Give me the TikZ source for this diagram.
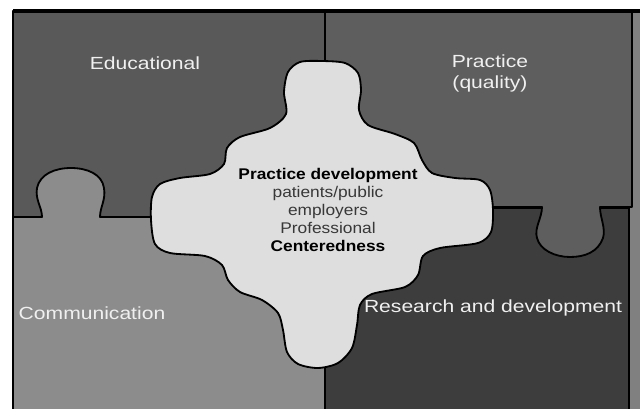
\documentclass[tikz,border=0pt]{standalone}
\usepackage{fontspec}
\setmainfont{Liberation Sans}
\newfontfamily\labelfont[FakeStretch=1.2]{Liberation Sans}
\newfontfamily\corefont[FakeStretch=1.12]{Liberation Sans}
\usepackage{xcolor}
\colorlet{colorEducational}{black!65}
\colorlet{colorPractice}{black!63}
\colorlet{colorCommunication}{black!45}
\colorlet{colorResearch}{black!76}
\colorlet{colorCore}{black!13}
\colorlet{colorStrip}{black!50}
\colorlet{colorLabel}{white!94!black}
\colorlet{colorCoreText}{black!78}
\tikzset{piece/.style={draw=black, line width=1.3pt, line join=round},
  pieceLabel/.style={text=colorLabel, font=\labelfont\fontsize{12.5}{15}\selectfont, align=center, inner sep=0pt},
  coreLabel/.style={text=colorCoreText, font=\corefont\fontsize{11}{12.8}\selectfont, align=center, inner sep=0pt}}

\begin{document}
\begin{tikzpicture}[x=0.025cm, y=-0.025cm]
\useasboundingbox (0,0) rectangle (640,409);
\clip (0,0) rectangle (640,409);
\fill[colorStrip] (628,11) rectangle (640,412);
\filldraw[piece, fill=colorResearch] (325,208) rectangle (629,414);
\filldraw[piece, fill=colorPractice] (325,11) -- (632,11) -- (632,207) -- (600,207) .. controls (600,218) and (606,228) .. (603,238) .. controls (598,252) and (585,257) .. (570,257) .. controls (555,257) and (540,250) .. (537,238) .. controls (534,228) and (542,218) .. (542,207) -- (325,207) -- cycle;
\filldraw[piece, fill=colorEducational] (13,11) rectangle (325,217);
\filldraw[piece, fill=colorCommunication] (13,217) -- (42,217) .. controls (42,207) and (35,200) .. (37,188) .. controls (40,174) and (55,168) .. (71,168) .. controls (87,168) and (102,174) .. (104,188) .. controls (106,200) and (100,207) .. (100,217) -- (325,217) -- (325,414) -- (13,414) -- cycle;
\draw[line width=3pt] (13,11) -- (640,11);
\filldraw[piece, fill=colorCore] plot[smooth cycle, tension=0.5] coordinates {(300,62) (322,61) (345,63) (358,73) (361,90) (359,110) (368,125) (395,134) (414,143) (422,160) (432,173) (455,178) (480,180) (490,190) (493,210) (491,232) (478,243) (440,248) (423,256) (418,275) (405,287) (372,294) (360,305) (357,325) (352,348) (338,363) (318,368) (298,364) (287,352) (283,330) (278,313) (262,300) (240,292) (228,280) (222,265) (205,256) (170,253) (155,244) (151,220) (152,197) (160,184) (180,178) (210,174) (224,164) (227,148) (240,137) (270,128) (286,114) (284,92) (288,72)};
\node[pieceLabel] (edu) at (145,63) {Educational};
\node[pieceLabel] (prac) at (490,73) {Practice\\(quality)};
\node[pieceLabel] (comm) at (92,313) {Communication};
\node[pieceLabel] (res) at (493,308) {Research and development};
\node[coreLabel] (core) at (328,210) {\textcolor{black}{\bfseries Practice development}\\patients/public\\employers\\Professional\\\textcolor{black}{\bfseries Centeredness}};
\end{tikzpicture}
\end{document}
